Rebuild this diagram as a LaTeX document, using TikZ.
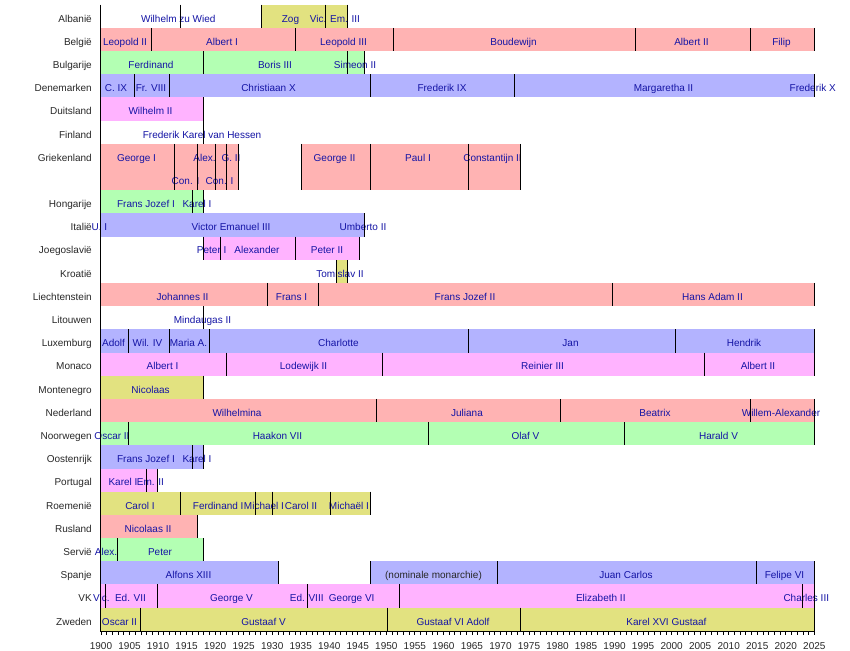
\documentclass[tikz,border=0pt]{standalone}
\usepackage{fontspec}
\setmainfont{Liberation Sans}
\definecolor{cR}{RGB}{255,179,179}
\definecolor{cG}{RGB}{179,255,179}
\definecolor{cB}{RGB}{179,179,255}
\definecolor{cV}{RGB}{255,179,255}
\definecolor{cY}{RGB}{226,226,128}
\definecolor{txtb}{RGB}{20,20,165}
\definecolor{labc}{RGB}{40,40,40}
\def\T{4.7}
\def\H{23.19}
\newcommand\Bar[4]{\fill[#4] (#2,{\T+#1*\H}) rectangle (#3,{\T+#1*\H+\H});}
\newcommand\Ln[2]{\draw[tl] (#2,{\T+#1*\H}) -- (#2,{\T+#1*\H+\H});}
\newcommand\Lb[4]{\node[bl] (#1) at (#3,{\T+#2*\H+0.5*\H+5.8}) {#4};}
\newcommand\Rl[3]{\node[rl] (#1) at (92,{\T+#2*\H+0.5*\H+5.8}) {#3};}
\begin{document}
\begin{tikzpicture}[x=1pt,y=-1pt,
  bl/.style={anchor=base, inner sep=0pt, text=txtb, font=\fontsize{10}{12}\selectfont},
  rl/.style={anchor=base east, inner sep=0pt, text=labc, font=\fontsize{10}{12}\selectfont},
  yl/.style={anchor=base, inner sep=0pt, text=labc, font=\fontsize{10}{12}\selectfont},
  tl/.style={line width=1pt, black},
  tk/.style={line width=0.8pt, black}]
\useasboundingbox (0,0) rectangle (850,650);
\fill[white] (0,0) rectangle (850,650);
% ---------- bars ----------
\Bar{0}{261.7}{347.3}{cY}
\Bar{1}{101}{814.3}{cR}
\Bar{2}{101}{364.7}{cG}
\Bar{3}{101}{815}{cB}
\Bar{4}{101}{203.3}{cV}
\fill[cR] (101,{\T+6*\H}) rectangle (238.3,{\T+8*\H});
\fill[cR] (301.7,{\T+6*\H}) rectangle (520.7,{\T+8*\H});
\Bar{8}{101}{203.3}{cG}
\Bar{9}{101}{364.3}{cB}
\Bar{10}{203.3}{359}{cV}
\Bar{11}{336.7}{347.3}{cY}
\Bar{12}{101}{814.3}{cR}
\Bar{14}{101}{814.3}{cB}
\Bar{15}{101}{814.3}{cV}
\Bar{16}{101}{203.3}{cY}
\Bar{17}{101}{814.3}{cR}
\Bar{18}{101}{814.3}{cG}
\Bar{19}{101}{203.3}{cB}
\Bar{20}{101}{157.3}{cV}
\Bar{21}{101}{370.3}{cY}
\Bar{22}{101}{197.3}{cR}
\Bar{23}{101}{203.3}{cG}
\Bar{24}{101}{278.3}{cB}
\Bar{24}{370.3}{814.3}{cB}
\Bar{25}{101}{814.3}{cV}
\Bar{26}{101}{814.3}{cY}
% ---------- row labels ----------
\Rl{r0}{0}{Albanië}
\Rl{r1}{1}{België}
\Rl{r2}{2}{Bulgarije}
\Rl{r3}{3}{Denemarken}
\Rl{r4}{4}{Duitsland}
\Rl{r5}{5}{Finland}
\Rl{r6}{6}{Griekenland}
\Rl{r8}{8}{Hongarije}
\Rl{r9}{9}{Italië}
\Rl{r10}{10}{Joegoslavië}
\Rl{r11}{11}{Kroatië}
\Rl{r12}{12}{Liechtenstein}
\Rl{r13}{13}{Litouwen}
\Rl{r14}{14}{Luxemburg}
\Rl{r15}{15}{Monaco}
\Rl{r16}{16}{Montenegro}
\Rl{r17}{17}{Nederland}
\Rl{r18}{18}{Noorwegen}
\Rl{r19}{19}{Oostenrijk}
\Rl{r20}{20}{Portugal}
\Rl{r21}{21}{Roemenië}
\Rl{r22}{22}{Rusland}
\Rl{r23}{23}{Servië}
\Rl{r24}{24}{Spanje}
\Rl{r25}{25}{VK}
\Rl{r26}{26}{Zweden}
% ---------- bar labels ----------
\Lb{alb1}{0}{178.3}{Wilhelm zu Wied}
\Lb{alb2}{0}{290.5}{Zog}
\Lb{alb3}{0}{335}{Vic. Em. III}
\Lb{bel1}{1}{125}{Leopold II}
\Lb{bel2}{1}{222}{Albert I}
\Lb{bel3}{1}{343.5}{Leopold III}
\Lb{bel4}{1}{513.5}{Boudewijn}
\Lb{bel5}{1}{691.5}{Albert II}
\Lb{bel6}{1}{781.5}{Filip}
\Lb{bul1}{2}{151}{Ferdinand}
\Lb{bul2}{2}{275}{Boris III}
\Lb{bul3}{2}{355}{Simeon II}
\Lb{den1}{3}{116}{C. IX}
\Lb{den2}{3}{151}{Fr. VIII}
\Lb{den3}{3}{268.5}{Christiaan X}
\Lb{den4}{3}{442}{Frederik IX}
\Lb{den5}{3}{663.5}{Margaretha II}
\Lb{den6}{3}{812.7}{Frederik X}
\Lb{dui1}{4}{150.5}{Wilhelm II}
\Lb{fin1}{5}{202}{Frederik Karel van Hessen}
\Lb{gri1}{6}{136.5}{George I}
\Lb{gri2}{6}{204.5}{Alex.}
\Lb{gri3}{6}{231}{G. II}
\Lb{gri4}{6}{334.5}{George II}
\Lb{gri5}{6}{418}{Paul I}
\Lb{gri6}{6}{492.5}{Constantijn II}
\Lb{gri7}{7}{185.5}{Con. I}
\Lb{gri8}{7}{219.5}{Con. I}
\Lb{hon1}{8}{146}{Frans Jozef I}
\Lb{hon2}{8}{197}{Karel I}
\Lb{ita1}{9}{99.5}{U. I}
\Lb{ita2}{9}{231}{Victor Emanuel III}
\Lb{ita3}{9}{363}{Umberto II}
\Lb{joe1}{10}{211.7}{Peter I}
\Lb{joe2}{10}{257}{Alexander}
\Lb{joe3}{10}{327}{Peter II}
\Lb{kro1}{11}{340}{Tomislav II}
\Lb{lie1}{12}{182.5}{Johannes II}
\Lb{lie2}{12}{291.5}{Frans I}
\Lb{lie3}{12}{465}{Frans Jozef II}
\Lb{lie4}{12}{712.5}{Hans Adam II}
\Lb{lit1}{13}{202.5}{Mindaugas II}
\Lb{lux1}{14}{113.5}{Adolf}
\Lb{lux2}{14}{147.5}{Wil. IV}
\Lb{lux3}{14}{188.5}{Maria A.}
\Lb{lux4}{14}{338.5}{Charlotte}
\Lb{lux5}{14}{570.5}{Jan}
\Lb{lux6}{14}{744}{Hendrik}
\Lb{mon1}{15}{162.5}{Albert I}
\Lb{mon2}{15}{303.5}{Lodewijk II}
\Lb{mon3}{15}{542.5}{Reinier III}
\Lb{mon4}{15}{758}{Albert II}
\Lb{mne1}{16}{150.5}{Nicolaas}
\Lb{ned1}{17}{237}{Wilhelmina}
\Lb{ned2}{17}{467}{Juliana}
\Lb{ned3}{17}{655}{Beatrix}
\Lb{ned4}{17}{781}{Willem-Alexander}
\Lb{noo1}{18}{112}{Oscar II}
\Lb{noo2}{18}{277.5}{Haakon VII}
\Lb{noo3}{18}{525.5}{Olaf V}
\Lb{noo4}{18}{718.5}{Harald V}
\Lb{oos1}{19}{146}{Frans Jozef I}
\Lb{oos2}{19}{197}{Karel I}
\Lb{por1}{20}{123}{Karel I}
\Lb{por2}{20}{150.5}{Em. II}
\Lb{roe1}{21}{140}{Carol I}
\Lb{roe2}{21}{218.2}{Ferdinand I}
\Lb{roe3}{21}{264}{Michael I}
\Lb{roe4}{21}{301}{Carol II}
\Lb{roe5}{21}{349}{Michaël I}
\Lb{rus1}{22}{148}{Nicolaas II}
\Lb{ser1}{23}{106}{Alex.}
\Lb{ser2}{23}{160}{Peter}
\Lb{spa1}{24}{188.5}{Alfons XIII}
\node[bl, text=labc] (spa2) at (433.5,{\T+24.5*\H+5.8}) {(nominale monarchie)};
\Lb{spa3}{24}{626}{Juan Carlos}
\Lb{spa4}{24}{784.5}{Felipe VI}
\Lb{vk1}{25}{101.3}{Vic.}
\Lb{vk2}{25}{130.5}{Ed. VII}
\Lb{vk3}{25}{231.5}{George V}
\Lb{vk4}{25}{306.7}{Ed. VIII}
\Lb{vk5}{25}{351.7}{George VI}
\Lb{vk6}{25}{600.8}{Elizabeth II}
\Lb{vk7}{25}{806.3}{Charles III}
\Lb{zwe1}{26}{119.5}{Oscar II}
\Lb{zwe2}{26}{263.5}{Gustaaf V}
\Lb{zwe3}{26}{453}{Gustaaf VI Adolf}
\Lb{zwe4}{26}{666.5}{Karel XVI Gustaaf}
% ---------- reign lines ----------
\foreach \x in {180.3,261.7,325,347.3} {\Ln{0}{\x}}
\foreach \x in {151.7,295.3,393.7,635.3,750.3,814.3} {\Ln{1}{\x}}
\foreach \x in {203.3,347.3,364.7} {\Ln{2}{\x}}
\foreach \x in {134.3,169.3,370.3,514.3,814.3} {\Ln{3}{\x}}
\Ln{4}{203.3}
\Ln{5}{203.3}
\foreach \x in {174.3,197.7,215.7,226.7,238.3,301.7,370.3,468.3,520.7} {\draw[tl] (\x,{\T+6*\H}) -- (\x,{\T+8*\H});}
\foreach \x in {192.3,203.3} {\Ln{8}{\x}}
\Ln{9}{364.3}
\foreach \x in {203.3,220.3,295.3,359} {\Ln{10}{\x}}
\foreach \x in {336.7,347.3} {\Ln{11}{\x}}
\foreach \x in {267,318.3,612.3,814.3} {\Ln{12}{\x}}
\Ln{13}{203.3}
\foreach \x in {128.3,169.3,209.3,468.3,675.3,814.3} {\Ln{14}{\x}}
\foreach \x in {226.7,382.3,704.3,814.3} {\Ln{15}{\x}}
\Ln{16}{203.3}
\foreach \x in {376.7,560.7,750.3,814.3} {\Ln{17}{\x}}
\foreach \x in {128.3,428.3,624.3,814.3} {\Ln{18}{\x}}
\foreach \x in {192.3,203.3} {\Ln{19}{\x}}
\foreach \x in {146.7,157.3} {\Ln{20}{\x}}
\foreach \x in {180.7,255.7,272.3,330.3,370.3} {\Ln{21}{\x}}
\Ln{22}{197.3}
\foreach \x in {117.3,203.3} {\Ln{23}{\x}}
\foreach \x in {278.3,370.3,497.3,756.3,814.3} {\Ln{24}{\x}}
\foreach \x in {105.7,157.3,307.3,399.3,802.3,814.3} {\Ln{25}{\x}}
\foreach \x in {140.3,387.3,520.3,814.3} {\Ln{26}{\x}}
% ---------- axes ----------
\coordinate (axtop) at (100.7,\T);
\coordinate (axorg) at (100.7,631);
\coordinate (axend) at (814.8,631);
\draw[tl] (axtop) -- (axorg) -- (axend);
\foreach \i in {0,...,125} {\draw[tk] ({101+\i*5.7064},631) -- ++(0,4);}
\foreach \yr in {1900,1905,...,2025} {\node[yl] (yr\yr) at ({101+(\yr-1900)*5.7064},649) {\yr};}
\end{tikzpicture}
\end{document}
